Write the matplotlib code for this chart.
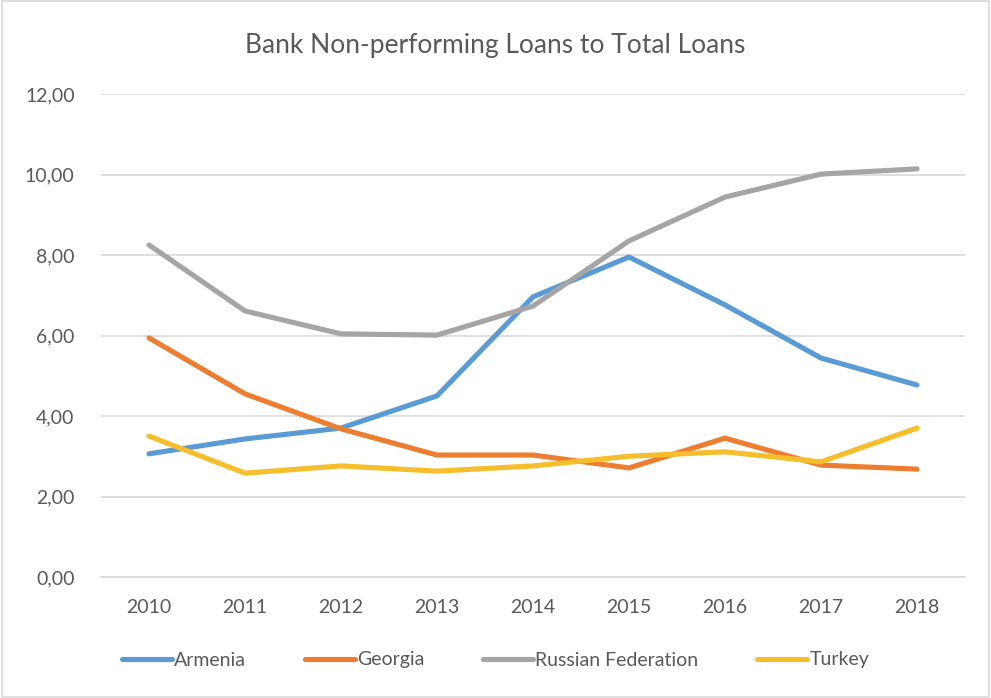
import matplotlib
matplotlib.use("Agg")
import matplotlib.pyplot as plt
from matplotlib.ticker import FuncFormatter

# NPL ratios, percent
years = ['2010', '2011', '2012', '2013', '2014', '2015', '2016', '2017', '2018']
armenia = [3.06, 3.43, 3.70, 4.50, 6.96, 7.95, 6.76, 5.44, 4.77]
georgia = [5.94, 4.55, 3.68, 3.03, 3.03, 2.71, 3.45, 2.78, 2.68]
russia = [8.25, 6.61, 6.04, 6.01, 6.73, 8.35, 9.44, 10.01, 10.14]
turkey = [3.50, 2.58, 2.76, 2.63, 2.76, 3.00, 3.11, 2.86, 3.70]

plt.rcParams['font.family'] = ['Lato', 'DejaVu Sans']
txt = '#595959'

fig = plt.figure(figsize=(9.91, 6.98), dpi=100)
ax = fig.add_axes([101/991, 1 - 577/698, 864/991, 483/698])

x = range(len(years))
lw = 3.7
ax.plot(x, armenia, color='#5B9BD5', lw=lw, label='Armenia', solid_capstyle='round')
ax.plot(x, georgia, color='#ED7D31', lw=lw, label='Georgia', solid_capstyle='round')
ax.plot(x, russia, color='#A5A5A5', lw=lw, label='Russian Federation', solid_capstyle='round')
ax.plot(x, turkey, color='#F7BE2B', lw=lw, label='Turkey', solid_capstyle='round')

ax.set_xlim(-0.5, len(years) - 0.5)
ax.set_ylim(0, 12)
ax.set_yticks(range(0, 13, 2))
ax.yaxis.set_major_formatter(FuncFormatter(lambda v, p: f'{v:.2f}'.replace('.', ',')))
ax.set_xticks(list(x))
ax.set_xticklabels(years)
ax.grid(axis='y', color='#D9D9D9', lw=1.2)
ax.set_axisbelow(True)
for s in ['top', 'right', 'left']:
    ax.spines[s].set_visible(False)
ax.spines['bottom'].set_color('#D9D9D9')
ax.spines['bottom'].set_linewidth(1.2)
ax.tick_params(length=0, labelsize=14, colors=txt, pad=16)
ax.tick_params(axis='y', pad=19)

fig.text(0.5, 1 - 45/698, 'Bank Non-performing Loans to Total Loans',
         ha='center', va='center', fontsize=19, color=txt)

fig.legend(loc='center', bbox_to_anchor=(0.5, 1 - 660/698), ncol=4, frameon=False,
           fontsize=14, labelcolor=txt, handlelength=2.6, handletextpad=0.1,
           columnspacing=3.0)

# outer chart border
fig.patches.append(plt.Rectangle((0.002, 0.002), 0.996, 0.996, transform=fig.transFigure,
                                 fill=False, edgecolor='#D9D9D9', lw=1.2))

fig.savefig('out.png', dpi=100)
